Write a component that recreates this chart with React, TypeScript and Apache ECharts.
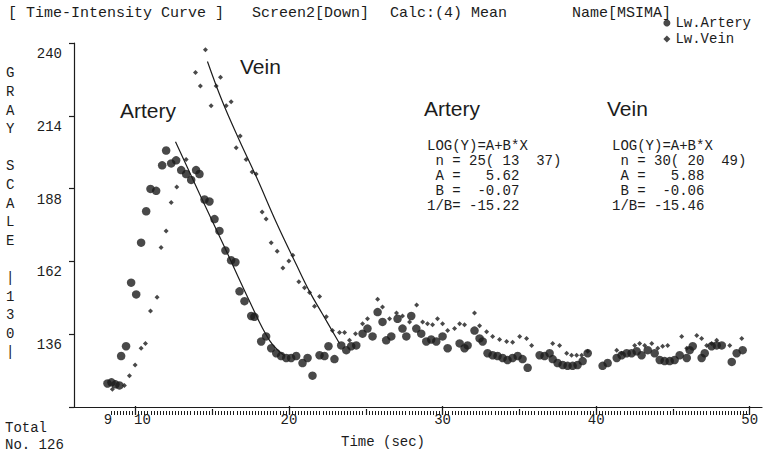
import React, { useEffect, useRef } from "react";
import * as echarts from "echarts";

// ---- data ----
const arteryTime = [
  8.18, 8.44, 8.7, 8.96, 9.07, 9.39, 9.72, 10.05, 10.37, 10.7, 10.98, 11.35, 11.74, 12.0, 12.33, 12.65,
  12.98, 13.3, 13.63, 13.95, 14.17, 14.5, 14.82, 15.15, 15.47, 15.86, 16.23, 16.51, 16.78, 17.1, 17.54,
  17.75, 18.19, 18.51, 18.84, 19.17, 19.49, 19.82, 20.14, 20.47, 20.88, 21.21, 21.53, 21.99, 22.31, 22.57,
  22.96, 23.4, 23.73, 24.05, 24.38, 24.79, 25.11, 25.44, 25.77, 26.09, 26.33, 26.66, 27.07, 27.39, 27.64,
  27.96, 28.29, 28.61, 28.94, 29.26, 29.59, 30.0, 30.33, 31.11, 31.43, 31.63, 32.08, 32.41, 32.61, 32.93,
  33.26, 33.58, 33.91, 34.23, 34.56, 34.89, 35.21, 35.54, 36.32, 36.64, 36.97, 37.17, 37.49, 37.82, 38.14,
  38.47, 38.79, 39.12, 39.45, 40.42, 40.75, 41.34, 41.66, 41.99, 42.31, 42.64, 42.96, 43.36, 43.81, 44.14,
  44.46, 44.79, 45.11, 45.44, 45.9, 46.09, 46.29, 46.87, 47.07, 47.52, 47.85, 48.18, 48.83, 49.15, 49.54,
];
const arteryGray = [
  118.4, 118.8, 118.1, 117.7, 128.2, 131.7, 154.4, 150.2, 168.7, 179.9, 187.9, 187.2, 196.3, 201.6, 197.0,
  198.1, 194.6, 193.2, 191.1, 194.6, 193.2, 184.1, 183.4, 177.1, 172.9, 165.9, 162.4, 161.7, 151.3, 147.8,
  142.5, 142.2, 133.4, 135.2, 131.0, 129.2, 128.2, 127.5, 127.5, 128.2, 125.7, 127.5, 121.2, 128.5, 128.2,
  131.7, 127.1, 132.0, 130.3, 131.7, 132.0, 136.2, 138.0, 135.2, 143.9, 140.4, 133.8, 135.2, 141.5, 138.0,
  135.2, 142.5, 138.0, 136.2, 133.4, 134.1, 133.4, 135.2, 131.0, 132.7, 131.0, 132.0, 137.3, 134.5, 133.4,
  129.2, 128.5, 128.2, 127.5, 126.8, 127.5, 128.2, 127.1, 124.0, 128.5, 128.2, 129.2, 127.1, 125.7, 125.0,
  124.7, 124.7, 125.0, 126.4, 129.2, 124.7, 125.7, 127.5, 128.5, 129.2, 129.2, 129.9, 128.5, 130.3, 129.2,
  126.8, 126.4, 126.4, 126.8, 128.5, 127.5, 130.3, 131.7, 127.5, 129.2, 131.7, 132.0, 132.0, 126.1, 129.2,
  130.3,
];
const veinTime = [
  8.5, 9.28, 9.61, 9.98, 10.37, 10.65, 10.98, 11.41, 11.67, 12.0, 12.33, 12.69, 13.3, 13.91, 14.23, 14.56,
  14.93, 15.26, 15.54, 15.91, 16.23, 16.56, 16.82, 17.21, 17.6, 17.86, 18.25, 18.51, 18.84, 19.23, 19.6,
  19.99, 20.25, 20.64, 21.01, 21.34, 21.66, 21.99, 22.43, 22.83, 23.29, 23.62, 23.94, 24.33, 24.79, 25.11,
  25.77, 26.09, 26.55, 27.0, 27.39, 27.85, 28.31, 28.7, 29.02, 29.35, 29.67, 30.0, 30.33, 30.78, 31.11,
  31.43, 32.08, 32.41, 32.87, 33.26, 33.71, 34.17, 34.56, 35.02, 35.47, 35.8, 37.17, 37.62, 38.08, 38.4,
  38.73, 39.06, 39.45, 41.34, 41.66, 42.51, 42.83, 43.16, 43.62, 44.01, 44.33, 44.66, 45.57, 45.9, 46.55,
  46.87, 47.2, 47.52, 47.85, 48.7, 49.48,
];
const veinGray = [
  116.3, 117.7, 121.2, 125.0, 131.0, 132.7, 144.3, 149.2, 167.0, 172.9, 183.0, 188.6, 198.4, 229.5, 224.6,
  237.6, 217.6, 224.6, 227.8, 217.6, 219.0, 202.6, 206.8, 198.4, 193.9, 193.2, 179.6, 177.1, 168.7, 165.6,
  159.6, 162.1, 164.2, 154.7, 152.6, 150.9, 146.0, 149.5, 142.2, 137.3, 136.6, 136.6, 133.8, 136.2, 139.7,
  141.5, 148.5, 145.7, 141.5, 143.6, 142.5, 140.4, 146.4, 140.4, 139.7, 139.4, 141.5, 139.7, 137.3, 138.0,
  139.7, 139.4, 143.6, 139.0, 136.9, 135.2, 134.1, 133.4, 133.1, 135.2, 134.5, 132.0, 132.7, 132.0, 129.2,
  128.5, 128.5, 128.5, 129.9, 130.3, 129.2, 132.0, 132.7, 132.0, 132.7, 131.0, 131.7, 132.0, 135.2, 131.0,
  135.5, 134.5, 132.0, 132.7, 133.8, 132.0, 134.5,
];
// fitted (LOG(Y)=A+B*X) curves as drawn in the reference
const arteryFitTime = [12.61, 14.17, 15.67, 17.43, 18.73, 19.71];
const arteryFitGray = [204.7, 186.2, 168.7, 147.8, 133.8, 128.2];
const veinFitTime = [14.69, 15.67, 16.78, 17.88, 19.19, 20.49, 21.34, 22.18, 23.29];
const veinFitGray = [233.4, 219.0, 205.1, 192.1, 175.7, 160.7, 151.2, 143.2, 132.7];

// axes
const yMin = 110;
const yMax = 240;
const yStep = 26;
const xMin = 6;
const xMax = 50.8;
const xLabelValues = [9, 10, 20, 30, 40, 50];
// tick rows: [first, last, step]
const xMajorTicks = [10, 50, 10];
const xMediumTicks = [15, 45, 10];
const xMinorTicks = [8.4, 50, 0.2];

// texts
const headerTexts = ["[ Time-Intensity Curve ]", "Screen2[Down]", "Calc:(4) Mean", "Name[MSIMA]"];
const yAxisTitle = ["G", "R", "A", "Y", "", "S", "C", "A", "L", "E", "", "|", "1", "3", "0", "|"];
const arteryStats = ["LOG(Y)=A+B*X", " n = 25( 13  37)", " A =   5.62", " B =  -0.07", "1/B= -15.22"];
const veinStats = ["LOG(Y)=A+B*X", " n = 30( 20  49)", " A =   5.88", " B =  -0.06", "1/B= -15.46"];

const MONO = "'Liberation Mono', 'DejaVu Sans Mono', monospace";
const SANS = "'Liberation Sans', Arial, sans-serif";
const INK = "#1c1c1c";
const W = 766;
const GRID = { left: 74, right: 4, top: 43, bottom: 39 };

export default function App() {
  const ref = useRef<HTMLDivElement>(null);

  useEffect(() => {
    if (!ref.current) return;
    const chart = echarts.init(ref.current, undefined, { renderer: "svg" });

    const zip = (a: number[], b: number[]) => a.map((v, i) => [v, b[i]]);

    // sub-grids that share the main grid's time scale, one per row of ticks
    const pxPerSec = (W - GRID.left - GRID.right) / (xMax - xMin);
    const xPx = (t: number) => GRID.left + (t - xMin) * pxPerSec;
    const subGrid = (row: number[]) => ({
      left: xPx(row[0]),
      right: W - xPx(row[1]),
      top: GRID.top,
      bottom: GRID.bottom,
    });
    const tickAxis = (gridIndex: number, row: number[], length: number, width: number) => ({
      type: "value",
      gridIndex,
      min: row[0],
      max: row[1],
      interval: row[2],
      position: "bottom",
      splitLine: { show: false },
      axisLine: { show: true, lineStyle: { color: INK, width: 1, opacity: 0 } },
      axisTick: { show: true, inside: true, length, lineStyle: { color: INK, width } },
      axisLabel: { show: false },
    });
    const hiddenY = (gridIndex: number) => ({
      type: "value",
      gridIndex,
      min: yMin,
      max: yMax,
      show: false,
    });

    chart.setOption({
      animation: false,
      backgroundColor: "#ffffff",
      grid: [GRID, subGrid(xMajorTicks), subGrid(xMediumTicks), subGrid(xMinorTicks)],
      legend: {
        orient: "vertical",
        right: 10,
        top: 10,
        itemGap: 0,
        itemWidth: 7,
        itemHeight: 7,
        textStyle: { fontFamily: MONO, fontSize: 14, lineHeight: 16, color: INK },
        data: [
          { name: "Lw.Artery", icon: "circle" },
          { name: "Lw.Vein", icon: "diamond" },
        ],
      },
      xAxis: [
        {
          type: "value",
          gridIndex: 0,
          min: xMin,
          max: xMax,
          position: "bottom",
          splitLine: { show: false },
          axisLine: { show: true, lineStyle: { color: INK, width: 1.2 } },
          axisTick: { show: false },
          axisLabel: {
            show: true,
            customValues: xLabelValues,
            fontFamily: MONO,
            fontSize: 14,
            color: INK,
            margin: 6,
            formatter: (v: number) => (v === 9 ? "{nine|9}" : v === 10 ? "{ten|10}" : String(v)),
            rich: {
              nine: { fontFamily: MONO, fontSize: 14, color: INK, padding: [0, 24, 0, 0] },
              ten: { fontFamily: MONO, fontSize: 14, color: INK, padding: [0, 0, 0, 14] },
            },
          },
          name: "Time (sec)",
          nameLocation: "middle",
          nameGap: 28,
          nameTextStyle: { fontFamily: MONO, fontSize: 14, color: INK, padding: [0, 70, 0, 0] },
        },
        tickAxis(1, xMajorTicks, 9, 1.3),
        tickAxis(2, xMediumTicks, 6, 1.2),
        tickAxis(3, xMinorTicks, 4, 1),
      ],
      yAxis: [
        {
          type: "value",
          gridIndex: 0,
          min: yMin,
          max: yMax,
          interval: yStep,
          splitLine: { show: false },
          axisLine: { show: true, lineStyle: { color: INK, width: 1.2 } },
          axisTick: { show: true, inside: false, length: 5, lineStyle: { color: INK, width: 1.2 } },
          axisLabel: {
            fontFamily: MONO,
            fontSize: 14,
            color: INK,
            margin: 12,
            verticalAlign: "top",
            lineHeight: 22,
            formatter: (v: number) => (v === yMin ? "" : String(v)),
          },
        },
        hiddenY(1),
        hiddenY(2),
        hiddenY(3),
      ],
      series: [
        {
          name: "Lw.Artery",
          type: "scatter",
          symbol: "circle",
          symbolSize: 8.5,
          itemStyle: { color: INK },
          data: zip(arteryTime, arteryGray),
          z: 3,
        },
        {
          name: "Lw.Vein",
          type: "scatter",
          symbol: "diamond",
          symbolSize: 5,
          itemStyle: { color: INK },
          data: zip(veinTime, veinGray),
          z: 4,
        },
        {
          name: "Artery fit",
          type: "line",
          smooth: 0.4,
          showSymbol: false,
          lineStyle: { color: INK, width: 1.2 },
          data: zip(arteryFitTime, arteryFitGray),
          z: 5,
        },
        {
          name: "Vein fit",
          type: "line",
          smooth: 0.4,
          showSymbol: false,
          lineStyle: { color: INK, width: 1.2 },
          data: zip(veinFitTime, veinFitGray),
          z: 5,
        },
      ],
      graphic: [
        { type: "text", left: 8, top: 6, style: { text: headerTexts[0], font: `15px ${MONO}`, fill: INK } },
        { type: "text", left: 252, top: 6, style: { text: headerTexts[1], font: `15px ${MONO}`, fill: INK } },
        { type: "text", left: 390, top: 6, style: { text: headerTexts[2], font: `15px ${MONO}`, fill: INK } },
        { type: "text", left: 572, top: 6, style: { text: headerTexts[3], font: `15px ${MONO}`, fill: INK } },
        {
          type: "text",
          left: 6,
          top: 64,
          style: { text: yAxisTitle.join("\n"), font: `14px ${MONO}`, lineHeight: 18.6, fill: INK },
        },
        { type: "text", left: 5, top: 421, style: { text: "Total", font: `14px ${MONO}`, fill: INK } },
        { type: "text", left: 5, top: 438, style: { text: "No. 126", font: `14px ${MONO}`, fill: INK } },
        { type: "text", left: 120, top: 100, style: { text: "Artery", font: `21px ${SANS}`, fill: INK } },
        { type: "text", left: 240, top: 56, style: { text: "Vein", font: `21px ${SANS}`, fill: INK } },
        { type: "text", left: 424, top: 98, style: { text: "Artery", font: `21px ${SANS}`, fill: INK } },
        { type: "text", left: 607, top: 98, style: { text: "Vein", font: `21px ${SANS}`, fill: INK } },
        {
          type: "text",
          left: 427,
          top: 138,
          style: { text: arteryStats.join("\n"), font: `14px ${MONO}`, lineHeight: 15, fill: INK },
        },
        {
          type: "text",
          left: 612,
          top: 138,
          style: { text: veinStats.join("\n"), font: `14px ${MONO}`, lineHeight: 15, fill: INK },
        },
      ],
    });

    return () => chart.dispose();
  }, []);

  return (
    <div
      ref={ref}
      style={{ position: "fixed", left: 0, top: 0, width: W, height: 454, background: "#fff" }}
    />
  );
}
